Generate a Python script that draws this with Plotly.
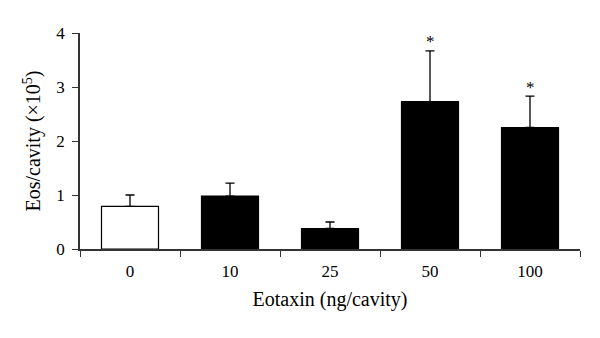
import plotly.graph_objects as go

categories = ["0", "10", "25", "50", "100"]
means = [0.79, 0.98, 0.38, 2.73, 2.25]
errors = [0.21, 0.24, 0.12, 0.94, 0.58]
marks = ["", "", "", "*", "*"]
bar_colors = ["white", "black", "black", "black", "black"]
y_ticks = [0, 1, 2, 3, 4]

font_family = "Liberation Serif"

fig = go.Figure()
fig.add_trace(go.Bar(
    x=categories, y=means,
    marker=dict(color=bar_colors, line=dict(color="black", width=1.2)),
    error_y=dict(type="data", symmetric=False, array=errors,
                 arrayminus=[0] * len(errors),
                 color="black", thickness=1.3, width=4.5),
    showlegend=False,
))

for i, (m, e, s) in enumerate(zip(means, errors, marks)):
    if s:
        fig.add_annotation(x=i, y=m + e, text=s, showarrow=False,
                           xref="x", yref="y",
                           yanchor="middle", yshift=9,
                           font=dict(family=font_family, size=17, color="black"))

fig.update_layout(
    width=600, height=338,
    margin=dict(l=72, r=28, t=25, b=97),
    paper_bgcolor="white", plot_bgcolor="white",
    bargap=0.43,
    font=dict(family=font_family, size=17, color="black"),
    xaxis=dict(
        type="category", categoryorder="array", categoryarray=categories,
        tickson="boundaries", ticks="outside", ticklen=6,
        tickwidth=1.3, tickcolor="#333", showline=True, linecolor="#333", linewidth=1.5,
        showgrid=False, zeroline=False, ticklabelstandoff=6,
        title=dict(text="Eotaxin (ng/cavity)", standoff=12),
        tickfont=dict(size=17),
    ),
    yaxis=dict(
        range=[0, 4], tickvals=y_ticks, ticks="outside", ticklen=6,
        tickwidth=1.3, tickcolor="#333", showline=True, linecolor="#333", linewidth=1.5,
        showgrid=False, zeroline=False, ticklabelstandoff=4,
        title=dict(text="Eos/cavity (×10<sup>5</sup>)", standoff=10),
        tickfont=dict(size=17),
    ),
)

fig.write_html("out.html")
